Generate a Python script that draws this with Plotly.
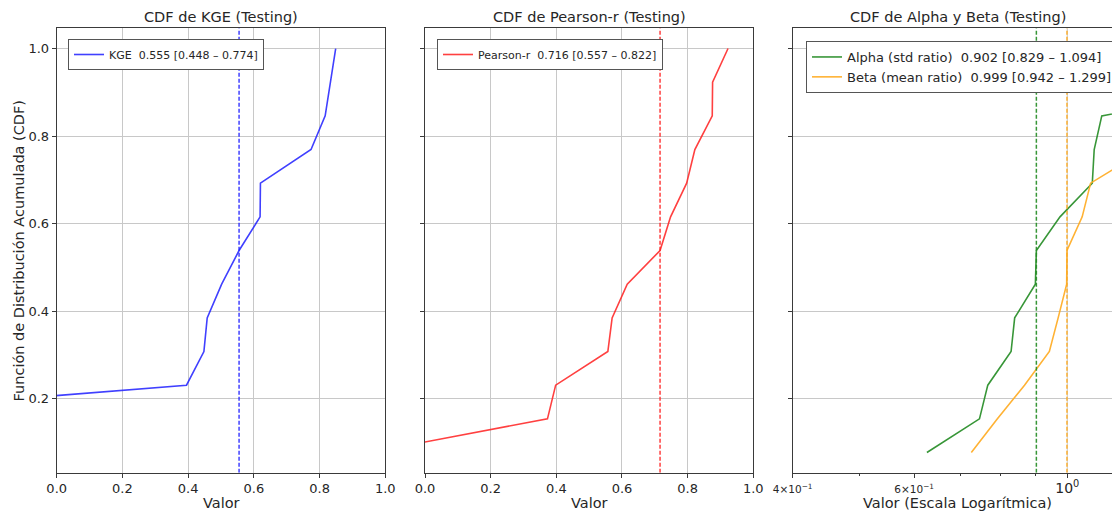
import numpy as np
import plotly.graph_objects as go

# ---------------- data ----------------
kge_values = [-1.60, -0.88, 0.395, 0.448, 0.458, 0.502, 0.555, 0.619, 0.620, 0.774, 0.817, 0.833, 0.849]
pearson_values = [-0.17, 0.373, 0.398, 0.557, 0.570, 0.616, 0.716, 0.748, 0.797, 0.822, 0.875, 0.876, 0.923]
alpha_values = [0.626, 0.746, 0.767, 0.829, 0.839, 0.899, 0.902, 0.976, 1.087, 1.094, 1.122, 2.10, 2.50]
beta_values = [0.726, 0.792, 0.867, 0.942, 0.970, 0.998, 0.999, 1.051, 1.081, 1.299, 1.40, 1.55, 1.80]

kge_stats = [0.555, 0.448, 0.774]
pearson_stats = [0.716, 0.557, 0.822]
alpha_stats = [0.902, 0.829, 1.094]
beta_stats = [0.999, 0.942, 1.299]

titles = ["CDF de KGE (Testing)", "CDF de Pearson-r (Testing)", "CDF de Alpha y Beta (Testing)"]
x_labels = ["Valor", "Valor", "Valor (Escala Logarítmica)"]
y_label = "Función de Distribución Acumulada (CDF)"
y_ticks = [0.2, 0.4, 0.6, 0.8, 1.0]
lin_x_ticks = [0.0, 0.2, 0.4, 0.6, 0.8, 1.0]
log_x_ticks = [0.4, 0.6, 1.0]
log_x_ticktext = ["<span style='font-size:10.5px'>4×10<sup>−1</sup></span>",
                  "<span style='font-size:10.5px'>6×10<sup>−1</sup></span>",
                  "<span style='font-size:14px'>10<sup>0</sup></span>"]
log_minor_ticks = [0.5, 0.7, 0.8, 0.9]

# ---------------- styling ----------------
W, H = 1112, 514
FONT = "DejaVu Sans"
TXT = "#262626"
GRID = "#c8c8c8"
SPINE = "#3a3a3a"
BLUE = "rgba(30,30,255,0.85)"
RED = "rgba(255,30,30,0.85)"
GREEN = "rgba(34,139,34,0.9)"
ORANGE = "rgba(255,170,30,0.9)"

def ecdf(vals):
    xs = np.sort(np.asarray(vals, dtype=float))
    ys = np.arange(1, len(xs) + 1) / len(xs)
    return xs, ys

def px_x(p):
    return p / W

def px_y(p):
    return 1 - p / H

Y_RANGE = [0.0308, 1.0462]
dom_y = [px_y(472.7), px_y(28.3)]
dom_x1 = [px_x(56.7), px_x(385.3)]
dom_x2 = [px_x(425.0), px_x(753.3)]
dom_x3 = [px_x(792.7), 1.0]
LOG_RANGE = [np.log10(0.4), np.log10(0.4) + (W - 792.7) / 690.0]

fig = go.Figure()

def nb(s):
    return s.replace("  ", "\u00a0\u00a0")

def label(name, st):
    return nb(f"{name}  {st[0]:.3f} [{st[1]:.3f} – {st[2]:.3f}]")

# Panel 1
x, y = ecdf(kge_values)
fig.add_trace(go.Scatter(x=x, y=y, mode="lines", line=dict(color=BLUE, width=1.6),
                         name=label("KGE", kge_stats), xaxis="x", yaxis="y", legend="legend"))
fig.add_trace(go.Scatter(x=[kge_stats[0]] * 2, y=Y_RANGE, mode="lines",
                         line=dict(color=BLUE, width=1.5, dash="4px,2px"), showlegend=False,
                         xaxis="x", yaxis="y"))
# Panel 2
x, y = ecdf(pearson_values)
fig.add_trace(go.Scatter(x=x, y=y, mode="lines", line=dict(color=RED, width=1.6),
                         name=label("Pearson-r", pearson_stats), xaxis="x2", yaxis="y2", legend="legend2"))
fig.add_trace(go.Scatter(x=[pearson_stats[0]] * 2, y=Y_RANGE, mode="lines",
                         line=dict(color=RED, width=1.5, dash="4px,2px"), showlegend=False,
                         xaxis="x2", yaxis="y2"))
# Panel 3
fig.add_trace(go.Scatter(x=[1.0, 1.0], y=Y_RANGE, mode="lines", line=dict(color=GRID, width=1),
                         showlegend=False, hoverinfo="skip", xaxis="x3", yaxis="y3"))
x, y = ecdf(alpha_values)
fig.add_trace(go.Scatter(x=x, y=y, mode="lines", line=dict(color=GREEN, width=1.6),
                         name=label("Alpha (std ratio)", alpha_stats), xaxis="x3", yaxis="y3", legend="legend3"))
x, y = ecdf(beta_values)
fig.add_trace(go.Scatter(x=x, y=y, mode="lines", line=dict(color=ORANGE, width=1.6),
                         name=label("Beta (mean ratio)", beta_stats), xaxis="x3", yaxis="y3", legend="legend3"))
fig.add_trace(go.Scatter(x=[alpha_stats[0]] * 2, y=Y_RANGE, mode="lines",
                         line=dict(color=GREEN, width=1.5, dash="4px,2px"), showlegend=False,
                         xaxis="x3", yaxis="y3"))
fig.add_trace(go.Scatter(x=[beta_stats[0]] * 2, y=Y_RANGE, mode="lines",
                         line=dict(color=ORANGE, width=1.5, dash="4px,2px"), showlegend=False,
                         xaxis="x3", yaxis="y3"))

common_ax = dict(showline=True, linecolor=SPINE, linewidth=1, ticks="outside", ticklen=4,
                 tickcolor=SPINE, tickwidth=1, zeroline=False, gridcolor=GRID, gridwidth=1,
                 automargin=False, tickfont=dict(family=FONT, size=13, color=TXT))

lin_x = dict(common_ax, range=[0, 1], tickmode="array", tickvals=lin_x_ticks,
             ticktext=[f"{v:.1f}" for v in lin_x_ticks], mirror=True, showgrid=True)
yax = dict(common_ax, range=Y_RANGE, tickmode="array", tickvals=y_ticks, domain=dom_y, showgrid=True)

legend_common = dict(bgcolor="white", bordercolor="#555555", borderwidth=1,
                     xanchor="left", yanchor="top", itemwidth=30, tracegroupgap=0)

fig.update_layout(
    width=W, height=H, margin=dict(l=0, r=0, t=0, b=0, autoexpand=False),
    paper_bgcolor="white", plot_bgcolor="white",
    font=dict(family=FONT, color=TXT),
    xaxis=dict(lin_x, domain=dom_x1, anchor="y"),
    xaxis2=dict(lin_x, domain=dom_x2, anchor="y2"),
    xaxis3=dict(common_ax, type="log", range=LOG_RANGE, domain=dom_x3, anchor="y3",
                tickmode="array", tickvals=log_x_ticks, ticktext=log_x_ticktext,
                mirror=True, showgrid=False,
                minor=dict(tickmode="array", tickvals=log_minor_ticks, ticks="outside",
                           ticklen=2, tickcolor=SPINE, showgrid=False)),
    yaxis=dict(yax, anchor="x", mirror=True, ticktext=[f"{v:.1f}" for v in y_ticks]),
    yaxis2=dict(yax, anchor="x2", mirror=True, showticklabels=False),
    yaxis3=dict(yax, anchor="x3", mirror=False, showticklabels=False),
    legend=dict(legend_common, x=px_x(68), y=px_y(39), font=dict(family=FONT, size=11, color=TXT)),
    legend2=dict(legend_common, x=px_x(437), y=px_y(39), font=dict(family=FONT, size=11, color=TXT)),
    legend3=dict(legend_common, x=px_x(806), y=px_y(41), font=dict(family=FONT, size=13, color=TXT)),
    showlegend=True,
)

centers = [(56.7 + 385.3) / 2, (425.0 + 753.3) / 2, 957.5]
anns = []
for c, t, xl in zip(centers, titles, x_labels):
    anns.append(dict(text=t, x=px_x(c), y=px_y(17), xref="paper", yref="paper",
                     showarrow=False, xanchor="center", yanchor="middle",
                     font=dict(family=FONT, size=14.5, color=TXT)))
    anns.append(dict(text=xl, x=px_x(c), y=px_y(503), xref="paper", yref="paper",
                     showarrow=False, xanchor="center", yanchor="middle",
                     font=dict(family=FONT, size=14.5, color=TXT)))
anns.append(dict(text=y_label, x=px_x(18), y=px_y(250.5), xref="paper", yref="paper",
                 showarrow=False, textangle=-90, xanchor="center", yanchor="middle",
                 font=dict(family=FONT, size=14.5, color=TXT)))
fig.update_layout(annotations=anns)

fig.write_html("out.html")
